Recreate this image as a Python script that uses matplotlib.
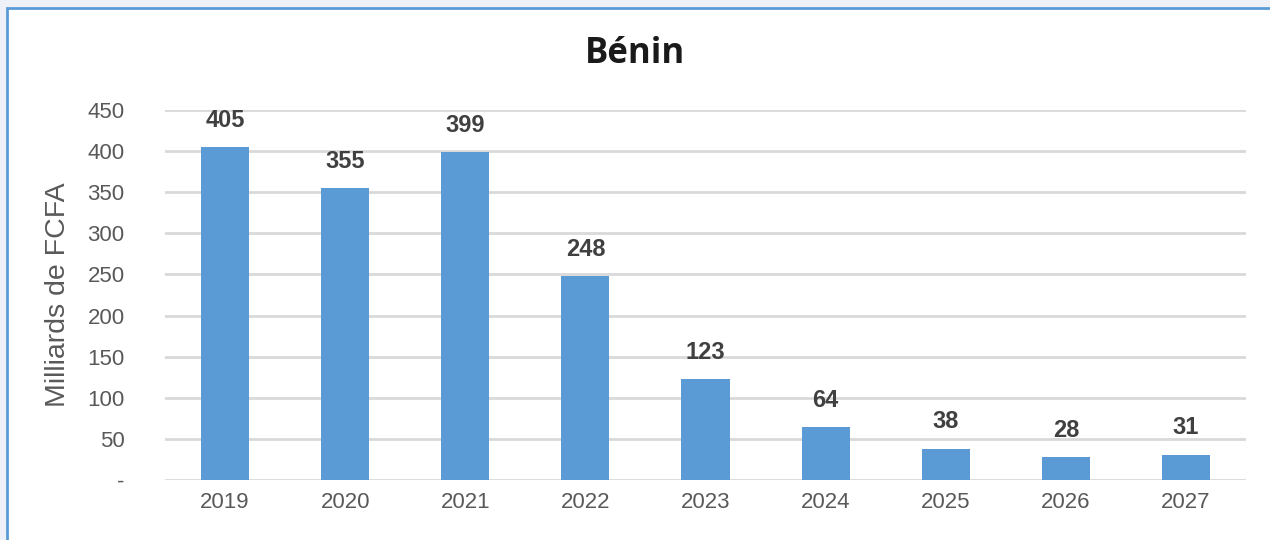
import matplotlib.pyplot as plt
from matplotlib.patches import Rectangle

annees = ['2019', '2020', '2021', '2022', '2023', '2024', '2025', '2026', '2027']
valeurs = [405, 355, 399, 248, 123, 64, 38, 28, 31]
yticks = [0, 50, 100, 150, 200, 250, 300, 350, 400, 450]
ytick_labels = ['-', '50', '100', '150', '200', '250', '300', '350', '400', '450']

plt.rcParams['font.family'] = ['Liberation Sans', 'DejaVu Sans']

fig = plt.figure(figsize=(12.7, 5.4), dpi=100)
fig.patch.set_facecolor('#eef2f8')
# cadre bleu
fig.patches.append(Rectangle((7 / 1270, -0.01), 1.02, 1 - 8 / 540 + 0.01,
                             transform=fig.transFigure, facecolor='white',
                             edgecolor='#5b9bd5', linewidth=2, zorder=-5))

ax = fig.add_axes([165 / 1270, 1 - 480 / 540, (1246 - 165) / 1270, 370 / 540])
ax.set_facecolor('none')
x = range(len(annees))
ax.bar(x, valeurs, width=0.4, color='#5b9bd5', zorder=3)
for xi, v in zip(x, valeurs):
    ax.annotate(str(v), (xi, v), xytext=(0, 11), textcoords='offset points',
                ha='center', va='bottom', fontsize=17, fontweight='bold', color='#404040')

ax.set_xlim(-0.5, len(annees) - 0.5)
ax.set_ylim(0, 450)
ax.set_yticks(yticks)
ax.set_yticklabels(ytick_labels)
ax.set_xticks(list(x))
ax.set_xticklabels(annees)
ax.tick_params(axis='y', length=0, pad=29, labelsize=16, labelcolor='#595959')
ax.tick_params(axis='x', length=0, pad=9, labelsize=16, labelcolor='#595959')
ax.grid(axis='y', color='#d9d9d9', linewidth=2, zorder=0)
for s in ax.spines.values():
    s.set_visible(False)
ax.set_ylabel('Milliards de FCFA', fontsize=20.5, color='#595959', labelpad=12)

fig.text(0.5, 1 - 54 / 540, 'Bénin', ha='center', va='center', fontsize=25,
         fontweight='bold', color='#1a1a1a', family=['Open Sans', 'DejaVu Sans'])

fig.savefig('out.png', dpi=100, facecolor=fig.get_facecolor())
